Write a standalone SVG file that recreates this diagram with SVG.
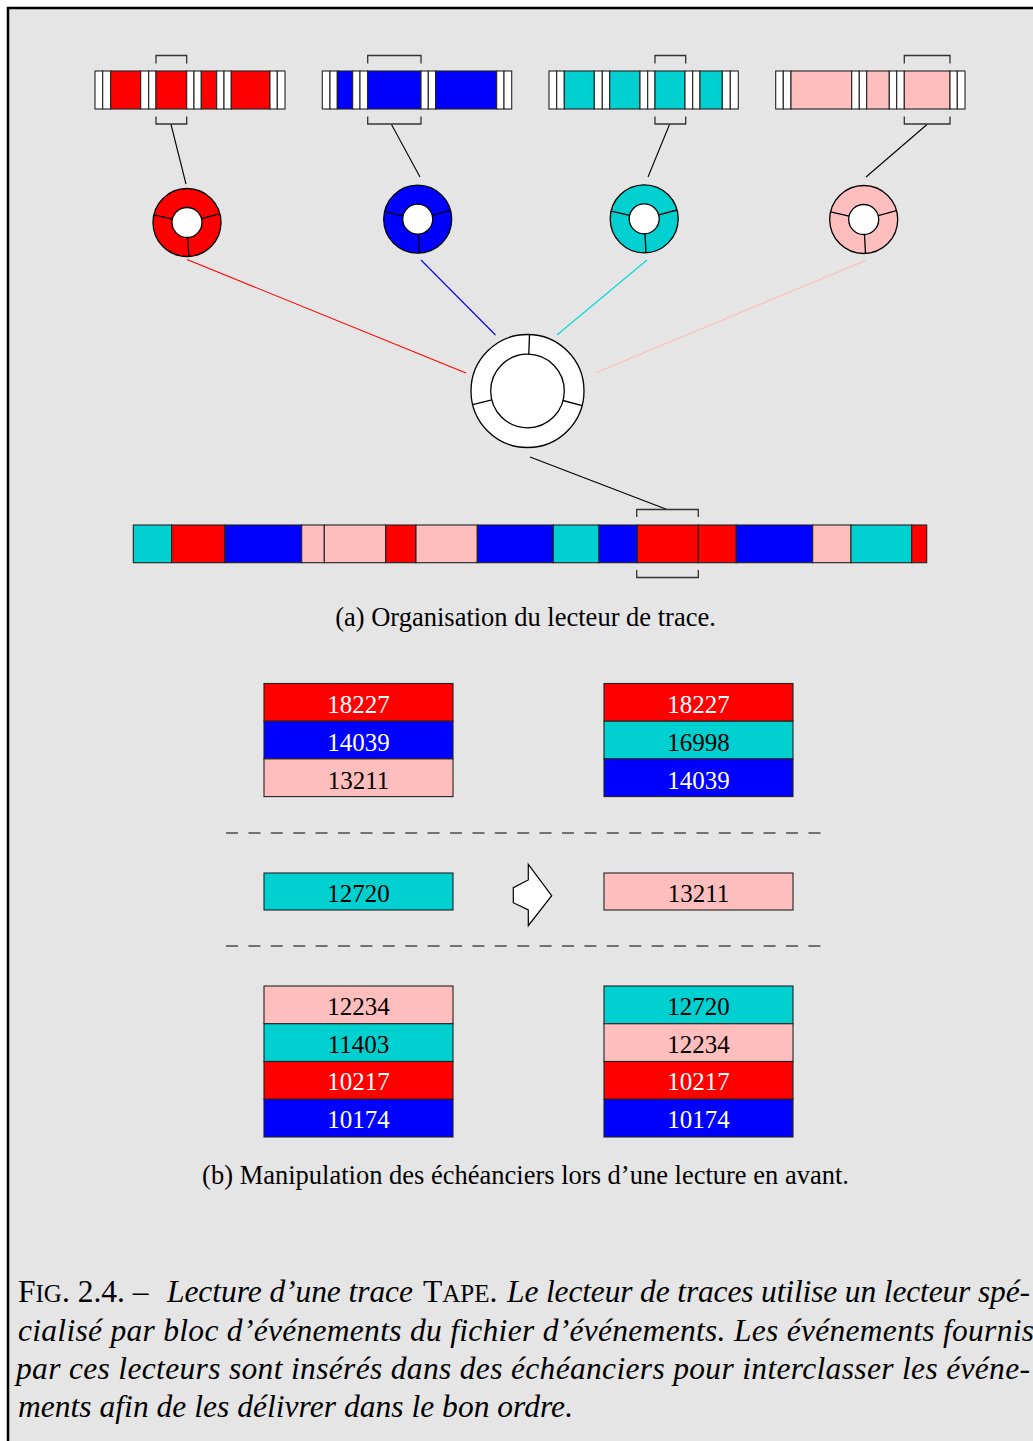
<svg xmlns="http://www.w3.org/2000/svg" width="1033" height="1441" viewBox="0 0 1033 1441">
<style>
.w{fill:#fff;stroke:#222;stroke-width:1.1}
.r{fill:#ff0000;stroke:#222;stroke-width:1.1}
.b{fill:#0000ff;stroke:#222;stroke-width:1.1}
.c{fill:#00d0d0;stroke:#222;stroke-width:1.1}
.p{fill:#ffbebe;stroke:#222;stroke-width:1.1}
.br{fill:none;stroke:#333;stroke-width:1.3}
.sp{stroke:#000;stroke-width:1.3}
.ln{fill:none;stroke-width:1.1}
.num{font-family:"Liberation Serif","DejaVu Serif",serif;font-size:25px;text-anchor:middle}
.wt{fill:#fff}
.bt{fill:#000}
.cap{font-family:"Liberation Serif","Times New Roman",serif;font-size:26.5px;fill:#000}
.fc{font-family:"Liberation Serif","Times New Roman",serif;font-size:31.5px;fill:#000}
.it{font-style:italic}
.dash{stroke:#000;stroke-width:1.1;stroke-dasharray:12 10.4}
</style>
<rect x="0" y="0" width="1033" height="1441" fill="#fff"/>
<rect x="8" y="8" width="1025" height="1433" fill="#e5e5e5"/>
<path d="M8,1441 V8 H1033" fill="none" stroke="#000" stroke-width="2.5"/>

<g id="connectors">
  <line class="ln" stroke="#000" x1="171" y1="124.5" x2="186" y2="184"/>
  <line class="ln" stroke="#000" x1="391.5" y1="124.5" x2="420" y2="177"/>
  <line class="ln" stroke="#000" x1="669.5" y1="124.5" x2="648" y2="177"/>
  <line class="ln" stroke="#000" x1="927" y1="124.5" x2="866" y2="177"/>
  <line class="ln" stroke="#ff0000" x1="187" y1="259.5" x2="466" y2="373"/>
  <line class="ln" stroke="#0000ff" x1="421" y1="260" x2="495.5" y2="335"/>
  <line class="ln" stroke="#00d8d8" x1="647" y1="260" x2="557" y2="335"/>
  <line class="ln" stroke="#ffbebe" x1="866" y1="260.5" x2="595" y2="373"/>
  <line class="ln" stroke="#000" x1="530" y1="457" x2="667" y2="509.5"/>
</g>

<g id="tape-red">
  <rect class="w" x="95" y="71" width="7.7" height="38"/>
  <rect class="w" x="102.7" y="71" width="8" height="38"/>
  <rect class="r" x="110.7" y="71" width="30" height="38"/>
  <rect class="w" x="140.7" y="71" width="8" height="38"/>
  <rect class="w" x="148.7" y="71" width="7.3" height="38"/>
  <rect class="r" x="156" y="71" width="30.7" height="38"/>
  <rect class="w" x="186.7" y="71" width="7.3" height="38"/>
  <rect class="w" x="194" y="71" width="7.3" height="38"/>
  <rect class="r" x="201.3" y="71" width="15.4" height="38"/>
  <rect class="w" x="216.7" y="71" width="7.3" height="38"/>
  <rect class="w" x="224" y="71" width="7.3" height="38"/>
  <rect class="r" x="231.3" y="71" width="38.7" height="38"/>
  <rect class="w" x="270" y="71" width="7.3" height="38"/>
  <rect class="w" x="277.3" y="71" width="7.7" height="38"/>
  <path class="br" d="M156,63.5 V55.5 H186.7 V63.5 M156,116.5 V124 H186.7 V116.5"/>
</g>

<g id="tape-blue">
  <rect class="w" x="322.3" y="71" width="7.7" height="38"/>
  <rect class="w" x="330" y="71" width="7.3" height="38"/>
  <rect class="b" x="337.3" y="71" width="15.4" height="38"/>
  <rect class="w" x="352.7" y="71" width="7.3" height="38"/>
  <rect class="w" x="360" y="71" width="7.7" height="38"/>
  <rect class="b" x="367.7" y="71" width="53.3" height="38"/>
  <rect class="w" x="421" y="71" width="7.3" height="38"/>
  <rect class="w" x="428.3" y="71" width="7.4" height="38"/>
  <rect class="b" x="435.7" y="71" width="61" height="38"/>
  <rect class="w" x="496.7" y="71" width="7.3" height="38"/>
  <rect class="w" x="504" y="71" width="7.7" height="38"/>
  <path class="br" d="M367.7,63.5 V55.5 H421 V63.5 M367.7,116.5 V124 H421 V116.5"/>
</g>

<g id="tape-cyan">
  <rect class="w" x="549" y="71" width="7.7" height="38"/>
  <rect class="w" x="556.7" y="71" width="7.6" height="38"/>
  <rect class="c" x="564.3" y="71" width="30" height="38"/>
  <rect class="w" x="594.3" y="71" width="8" height="38"/>
  <rect class="w" x="602.3" y="71" width="7.4" height="38"/>
  <rect class="c" x="609.7" y="71" width="30.3" height="38"/>
  <rect class="w" x="640" y="71" width="7.7" height="38"/>
  <rect class="w" x="647.7" y="71" width="7.3" height="38"/>
  <rect class="c" x="655" y="71" width="30" height="38"/>
  <rect class="w" x="685" y="71" width="7.7" height="38"/>
  <rect class="w" x="692.7" y="71" width="7.3" height="38"/>
  <rect class="c" x="700" y="71" width="22.3" height="38"/>
  <rect class="w" x="722.3" y="71" width="8" height="38"/>
  <rect class="w" x="730.3" y="71" width="8" height="38"/>
  <path class="br" d="M655,63.5 V55.5 H685.7 V63.5 M655,116.5 V124 H685.7 V116.5"/>
</g>

<g id="tape-pink">
  <rect class="w" x="775.7" y="71" width="7.6" height="38"/>
  <rect class="w" x="783.3" y="71" width="7.7" height="38"/>
  <rect class="p" x="791" y="71" width="60.7" height="38"/>
  <rect class="w" x="851.7" y="71" width="7.6" height="38"/>
  <rect class="w" x="859.3" y="71" width="7.4" height="38"/>
  <rect class="p" x="866.7" y="71" width="22.6" height="38"/>
  <rect class="w" x="889.3" y="71" width="7.4" height="38"/>
  <rect class="w" x="896.7" y="71" width="7.6" height="38"/>
  <rect class="p" x="904.3" y="71" width="45.7" height="38"/>
  <rect class="w" x="950" y="71" width="7.3" height="38"/>
  <rect class="w" x="957.3" y="71" width="7.7" height="38"/>
  <path class="br" d="M904.3,63.5 V55.5 H950 V63.5 M904.3,116.5 V124 H950 V116.5"/>
</g>

<g id="reader-red" transform="translate(187,222.5)">
  <circle r="34" fill="#ff0000" stroke="#000" stroke-width="1.3"/>
  <circle r="15" fill="#fff" stroke="#000" stroke-width="1.3"/>
  <line class="sp" x1="0.8" y1="15" x2="1.8" y2="34"/>
  <line class="sp" x1="-14.6" y1="-3.4" x2="-33.1" y2="-7.6"/>
  <line class="sp" x1="14.5" y1="-3.9" x2="32.8" y2="-8.8"/>
</g>
<g id="reader-blue" transform="translate(417.7,219.2)">
  <circle r="34" fill="#0000ff" stroke="#000" stroke-width="1.3"/>
  <circle r="15" fill="#fff" stroke="#000" stroke-width="1.3"/>
  <line class="sp" x1="0.8" y1="15" x2="1.8" y2="34"/>
  <line class="sp" x1="-14.6" y1="-3.4" x2="-33.1" y2="-7.6"/>
  <line class="sp" x1="14.5" y1="-3.9" x2="32.8" y2="-8.8"/>
</g>
<g id="reader-cyan" transform="translate(644.2,218.8)">
  <circle r="34" fill="#00d0d0" stroke="#000" stroke-width="1.3"/>
  <circle r="15" fill="#fff" stroke="#000" stroke-width="1.3"/>
  <line class="sp" x1="0.8" y1="15" x2="1.8" y2="34"/>
  <line class="sp" x1="-14.6" y1="-3.4" x2="-33.1" y2="-7.6"/>
  <line class="sp" x1="14.5" y1="-3.9" x2="32.8" y2="-8.8"/>
</g>
<g id="reader-pink" transform="translate(863.7,219.5)">
  <circle r="34" fill="#ffbebe" stroke="#000" stroke-width="1.3"/>
  <circle r="15" fill="#fff" stroke="#000" stroke-width="1.3"/>
  <line class="sp" x1="0.8" y1="15" x2="1.8" y2="34"/>
  <line class="sp" x1="-14.6" y1="-3.4" x2="-33.1" y2="-7.6"/>
  <line class="sp" x1="14.5" y1="-3.9" x2="32.8" y2="-8.8"/>
</g>

<g id="trace-reader" transform="translate(527.5,391)">
  <circle r="56.5" fill="#fff" stroke="#000" stroke-width="1.3"/>
  <circle r="36.8" fill="#fff" stroke="#000" stroke-width="1.3"/>
  <line class="sp" x1="1.3" y1="-36.8" x2="2" y2="-56.5"/>
  <line class="sp" x1="-35.7" y1="8.9" x2="-54.8" y2="13.7"/>
  <line class="sp" x1="35.5" y1="9.5" x2="54.6" y2="14.6"/>
</g>

<g id="trace-file">
  <rect class="c" x="133.3" y="525" width="38.4" height="37.7"/>
  <rect class="r" x="171.7" y="525" width="53.3" height="37.7"/>
  <rect class="b" x="225" y="525" width="76.7" height="37.7"/>
  <rect class="p" x="301.7" y="525" width="22.6" height="37.7"/>
  <rect class="p" x="324.3" y="525" width="61.4" height="37.7"/>
  <rect class="r" x="385.7" y="525" width="30.3" height="37.7"/>
  <rect class="p" x="416" y="525" width="61.3" height="37.7"/>
  <rect class="b" x="477.3" y="525" width="76" height="37.7"/>
  <rect class="c" x="553.3" y="525" width="45.7" height="37.7"/>
  <rect class="b" x="599" y="525" width="38.3" height="37.7"/>
  <rect class="r" x="637.3" y="525" width="61" height="37.7"/>
  <rect class="r" x="698.3" y="525" width="38" height="37.7"/>
  <rect class="b" x="736.3" y="525" width="76.4" height="37.7"/>
  <rect class="p" x="812.7" y="525" width="38.3" height="37.7"/>
  <rect class="c" x="851" y="525" width="60.7" height="37.7"/>
  <rect class="r" x="911.7" y="525" width="15" height="37.7"/>
  <path class="br" d="M636.7,517 V509.5 H698.3 V517 M636.7,570 V577.5 H698.3 V570"/>
</g>

<text id="caption-a" class="cap" x="525.5" y="626" text-anchor="middle">(a) Organisation du lecteur de trace.</text>

<g id="stack-before-top">
  <rect class="r" x="264" y="683.5" width="189" height="37.7"/>
  <rect class="b" x="264" y="721.2" width="189" height="37.7"/>
  <rect class="p" x="264" y="758.9" width="189" height="37.7"/>
  <text class="num wt" x="358.5" y="713">18227</text>
  <text class="num wt" x="358.5" y="751">14039</text>
  <text class="num bt" x="358.5" y="788.5">13211</text>
</g>
<g id="stack-after-top">
  <rect class="r" x="604" y="683.5" width="189" height="37.7"/>
  <rect class="c" x="604" y="721.2" width="189" height="37.7"/>
  <rect class="b" x="604" y="758.9" width="189" height="37.7"/>
  <text class="num wt" x="698.5" y="713">18227</text>
  <text class="num bt" x="698.5" y="751">16998</text>
  <text class="num wt" x="698.5" y="788.5">14039</text>
</g>

<line class="dash" x1="226" y1="833" x2="821" y2="833"/>

<g id="current-before">
  <rect class="c" x="264" y="873" width="189" height="37"/>
  <text class="num bt" x="358.5" y="902">12720</text>
</g>
<g id="arrow">
  <polygon points="528.3,864.3 551.7,895.7 528.3,925.7 528.3,910 513.3,902.7 513.3,887.7 528.3,880" fill="#fff" stroke="#000" stroke-width="1.2"/>
</g>
<g id="current-after">
  <rect class="p" x="604" y="873" width="189" height="37"/>
  <text class="num bt" x="698.5" y="902">13211</text>
</g>

<line class="dash" x1="226" y1="946" x2="821" y2="946"/>

<g id="stack-before-bottom">
  <rect class="p" x="264" y="986" width="189" height="37.75"/>
  <rect class="c" x="264" y="1023.75" width="189" height="37.75"/>
  <rect class="r" x="264" y="1061.5" width="189" height="37.75"/>
  <rect class="b" x="264" y="1099.25" width="189" height="37.75"/>
  <text class="num bt" x="358.5" y="1015">12234</text>
  <text class="num bt" x="358.5" y="1052.5">11403</text>
  <text class="num wt" x="358.5" y="1090">10217</text>
  <text class="num wt" x="358.5" y="1128">10174</text>
</g>
<g id="stack-after-bottom">
  <rect class="c" x="604" y="986" width="189" height="37.75"/>
  <rect class="p" x="604" y="1023.75" width="189" height="37.75"/>
  <rect class="r" x="604" y="1061.5" width="189" height="37.75"/>
  <rect class="b" x="604" y="1099.25" width="189" height="37.75"/>
  <text class="num bt" x="698.5" y="1015">12720</text>
  <text class="num bt" x="698.5" y="1052.5">12234</text>
  <text class="num wt" x="698.5" y="1090">10217</text>
  <text class="num wt" x="698.5" y="1128">10174</text>
</g>

<text id="caption-b" class="cap" x="525.5" y="1184" text-anchor="middle">(b) Manipulation des échéanciers lors d’une lecture en avant.</text>

<g id="figure-caption">
  <text class="fc" x="18" y="1302">F<tspan font-size="25">IG</tspan>. 2.4. –</text>
  <text class="fc it" x="167" y="1302" textLength="246">Lecture d’une trace</text>
  <text class="fc" x="423" y="1302">T<tspan font-size="25">APE</tspan>.</text>
  <text class="fc it" x="507" y="1302" textLength="523">Le lecteur de traces utilise un lecteur spé-</text>
  <text class="fc it" x="18" y="1341" textLength="1016">cialisé par bloc d’événements du fichier d’événements. Les événements fournis</text>
  <text class="fc it" x="16" y="1379" textLength="1014">par ces lecteurs sont insérés dans des échéanciers pour interclasser les événe-</text>
  <text class="fc it" x="18" y="1417" textLength="555">ments afin de les délivrer dans le bon ordre.</text>
</g>
</svg>
